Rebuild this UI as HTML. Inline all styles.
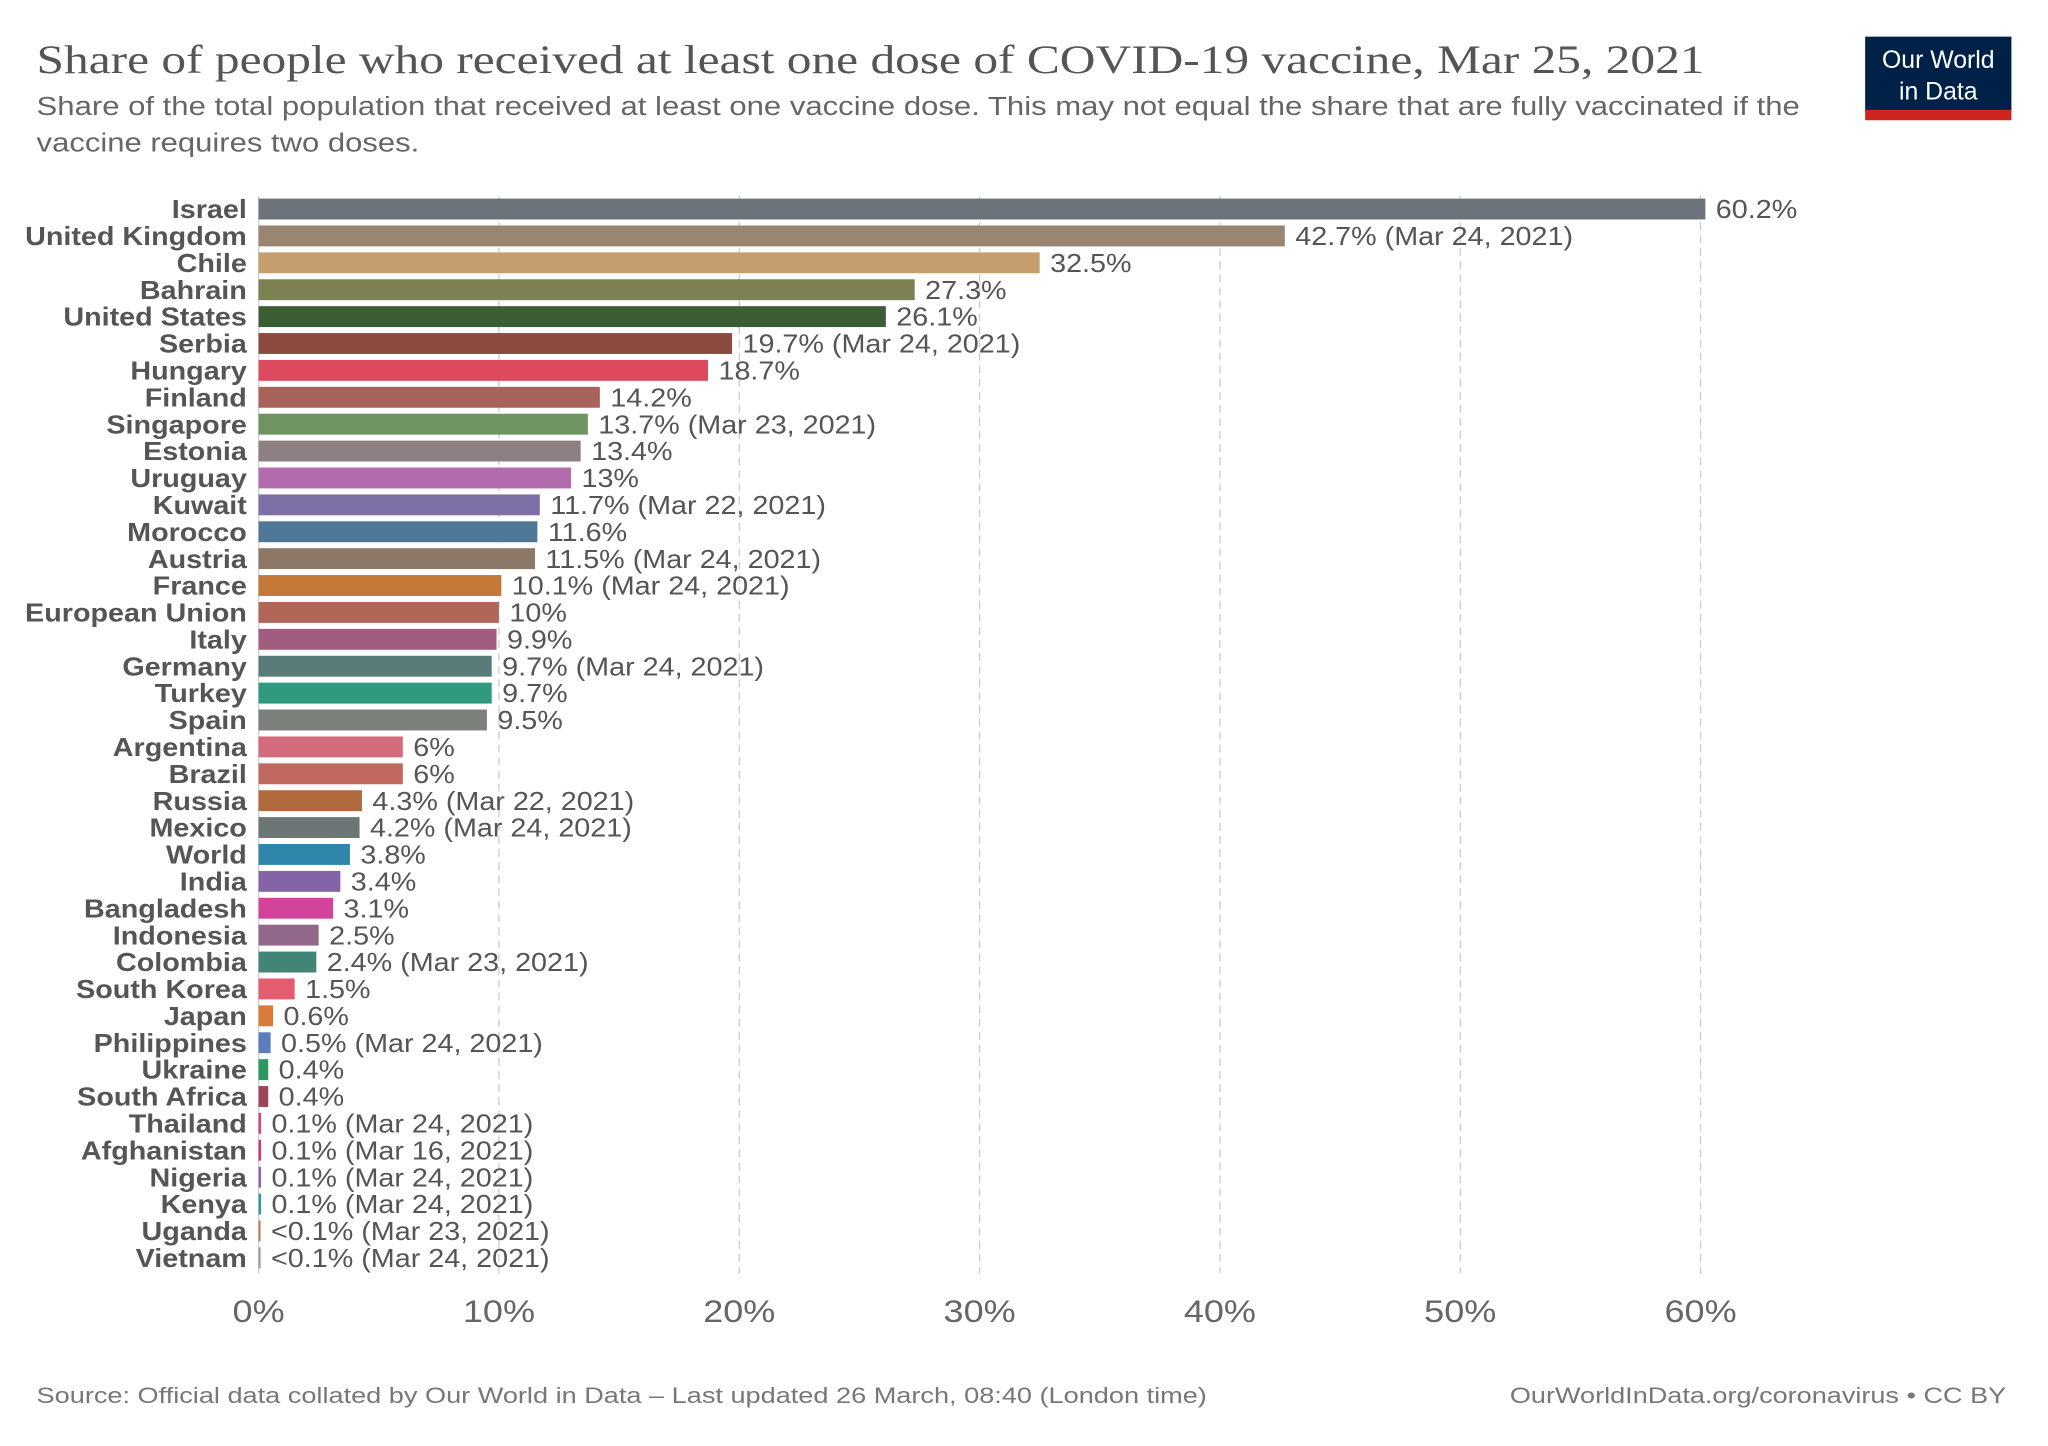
<!DOCTYPE html>
<html><head><meta charset="utf-8"><style>
html,body{margin:0;padding:0;background:#fff;}
svg{display:block;}
text{font-family:"Liberation Sans",sans-serif;}
</style></head><body>
<svg id="chart" width="2048" height="1446" viewBox="0 0 1568 1107" xmlns="http://www.w3.org/2000/svg">
<text x="28" y="56" style="font-family:'Liberation Serif',serif" font-size="31" fill="#555" textLength="1277" lengthAdjust="spacingAndGlyphs">Share of people who received at least one dose of COVID-19 vaccine, Mar 25, 2021</text>
<text x="28" y="88" font-size="19.5" fill="#666" textLength="1350" lengthAdjust="spacingAndGlyphs">Share of the total population that received at least one vaccine dose. This may not equal the share that are fully vaccinated if the</text>
<text x="28" y="116" font-size="19.5" fill="#666" textLength="293" lengthAdjust="spacingAndGlyphs">vaccine requires two doses.</text>
<g>
<rect x="1428" y="28" width="112" height="58" fill="#002147"/>
<rect x="1428" y="84" width="112" height="8" fill="#ce261e"/>
<text x="1484" y="52" font-size="19" fill="#fff" text-anchor="middle">Our World</text>
<text x="1484" y="76" font-size="19" fill="#fff" text-anchor="middle">in Data</text>
</g>
<g id="grid"></g>
<g id="bars"></g>
<g id="xticks"></g>
<text x="28" y="1074" font-size="17" fill="#777" textLength="896" lengthAdjust="spacingAndGlyphs">Source: Official data collated by Our World in Data – Last updated 26 March, 08:40 (London time)</text>
<text x="1536" y="1074" font-size="17" fill="#777" text-anchor="end" textLength="380" lengthAdjust="spacingAndGlyphs">OurWorldInData.org/coronavirus • CC BY</text>
</svg>
<script>
const countries=["Israel","United Kingdom","Chile","Bahrain","United States","Serbia","Hungary","Finland","Singapore","Estonia","Uruguay","Kuwait","Morocco","Austria","France","European Union","Italy","Germany","Turkey","Spain","Argentina","Brazil","Russia","Mexico","World","India","Bangladesh","Indonesia","Colombia","South Korea","Japan","Philippines","Ukraine","South Africa","Thailand","Afghanistan","Nigeria","Kenya","Uganda","Vietnam"];
const values=[60.2,42.7,32.5,27.3,26.1,19.7,18.7,14.2,13.7,13.4,13,11.7,11.6,11.5,10.1,10,9.9,9.7,9.7,9.5,6,6,4.3,4.2,3.8,3.4,3.1,2.5,2.4,1.5,0.6,0.5,0.4,0.4,0.1,0.1,0.1,0.1,0.03,0.03];
const valueLabels=["60.2%","42.7% (Mar 24, 2021)","32.5%","27.3%","26.1%","19.7% (Mar 24, 2021)","18.7%","14.2%","13.7% (Mar 23, 2021)","13.4%","13%","11.7% (Mar 22, 2021)","11.6%","11.5% (Mar 24, 2021)","10.1% (Mar 24, 2021)","10%","9.9%","9.7% (Mar 24, 2021)","9.7%","9.5%","6%","6%","4.3% (Mar 22, 2021)","4.2% (Mar 24, 2021)","3.8%","3.4%","3.1%","2.5%","2.4% (Mar 23, 2021)","1.5%","0.6%","0.5% (Mar 24, 2021)","0.4%","0.4%","0.1% (Mar 24, 2021)","0.1% (Mar 16, 2021)","0.1% (Mar 24, 2021)","0.1% (Mar 24, 2021)","<0.1% (Mar 23, 2021)","<0.1% (Mar 24, 2021)"];
const colors=["#6d727b","#9a8572","#c59d6f","#7d8050","#3c5e35","#8d4a3f","#dd4a5e","#a8645b","#6e9561","#8d7f82","#b26cae","#7f6fa7","#4f7798","#8c7866","#c47837","#b06758","#a25c7d","#5a7c79","#2f9a80","#7b807b","#d46b7d","#c0685e","#b06a3e","#6c7676","#2e86ab","#8463a8","#d2449c","#92688a","#428576","#e45d6e","#d87c3b","#5d7cbc","#2a9a5f","#a04557","#d83e80","#d2347a","#9163b3","#2a9b9a","#c47a4a","#999999"];
const tickValues=[0,10,20,30,40,50,60];
const tickLabels=["0%","10%","20%","30%","40%","50%","60%"];
const NS="http://www.w3.org/2000/svg";
const x0=198, pxPer=(1302-198)/60;
const xs=v=>x0+v*pxPer;
const yTop=160, step=(963-160)/39;
const ys=i=>yTop+i*step;
function mk(t,a){const e=document.createElementNS(NS,t);for(const k in a)e.setAttribute(k,a[k]);return e;}
function widen(el,f){const L=el.getComputedTextLength();el.setAttribute('textLength',L*f);el.setAttribute('lengthAdjust','spacingAndGlyphs');}
const grid=document.getElementById('grid'),bars=document.getElementById('bars'),xt=document.getElementById('xticks');
tickValues.forEach((v,i)=>{
  const ln=mk('line',{x1:xs(v),x2:xs(v),y1:150,y2:975,stroke:'#ccc','stroke-width':1,'stroke-dasharray':v===0?'':'6,4'});
  
  
  grid.appendChild(ln);
  const t=mk('text',{x:xs(v),y:1012,'font-size':24,fill:'#666','text-anchor':'middle'});
  t.textContent=tickLabels[i];
  
  
  xt.appendChild(t);
  widen(t,1.15);
});
countries.forEach((c,i)=>{
  const y=ys(i);
  const lab=mk('text',{x:189,y:y+7,'font-size':20,'font-weight':'bold',fill:'#555','text-anchor':'end'});
  lab.textContent=c;
  
  
  bars.appendChild(lab);
  widen(lab,1.1);
  const w=Math.max(xs(values[i])-x0,1.5);
  const r=mk('rect',{x:x0,y:y-8,width:w,height:16,fill:colors[i]});
  
  
  bars.appendChild(r);
  const vl=mk('text',{x:x0+w+8,y:y+7,'font-size':20,fill:'#555'});
  vl.textContent=valueLabels[i];
  
  
  bars.appendChild(vl);
  widen(vl,1.1);
});
</script>
</body></html>
